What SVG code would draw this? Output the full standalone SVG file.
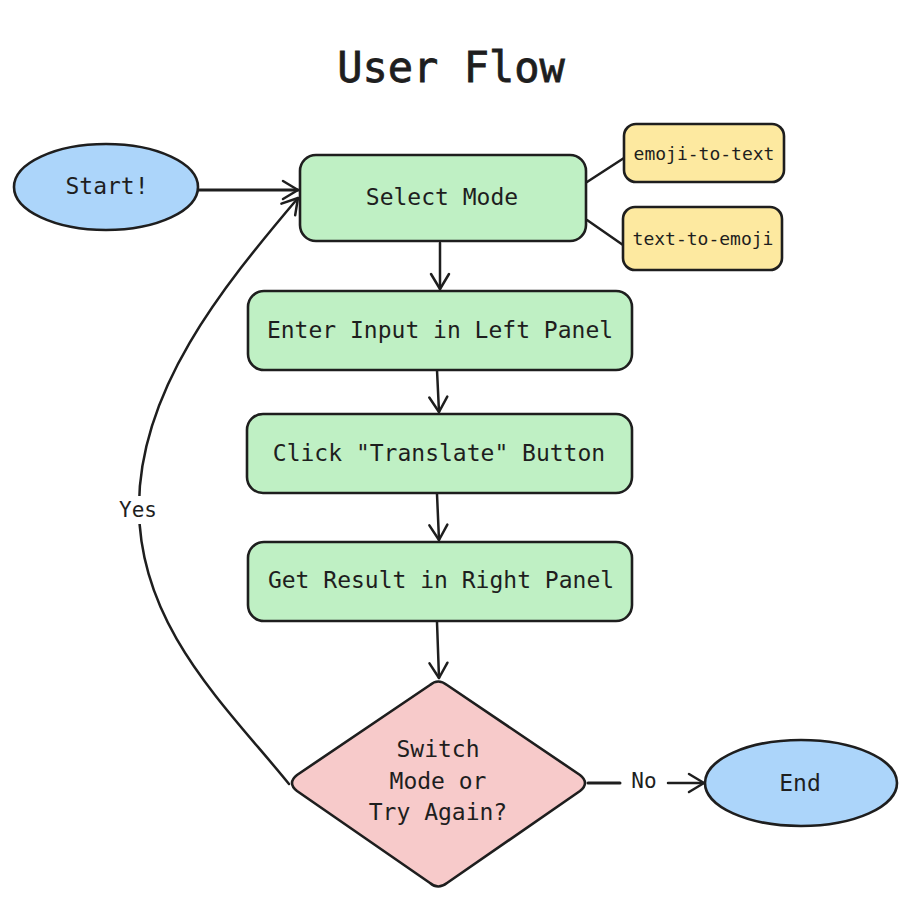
<svg xmlns="http://www.w3.org/2000/svg" width="922" height="918" viewBox="0 0 922 918">
<style>
text{font-family:"DejaVu Sans Mono","Liberation Mono",monospace;fill:#1e1e1e;text-anchor:middle;dominant-baseline:central}
.n{stroke:#1e1e1e;stroke-width:2.6;stroke-linejoin:round}
.blue{fill:#acd5fa}.green{fill:#bff0c4}.yellow{fill:#fde9a0}.pink{fill:#f7caca}
.t{font-size:23px}.s{font-size:18px}
.c{fill:none;stroke:#1e1e1e;stroke-width:2.5;stroke-linecap:round}
</style>
<defs>
<marker id="ah" markerUnits="userSpaceOnUse" markerWidth="40" markerHeight="40" refX="20" refY="20" orient="auto" viewBox="0 0 40 40">
<path d="M5,11 L20,20 L5,29" fill="none" stroke="#1e1e1e" stroke-width="2.5" stroke-linecap="round" stroke-linejoin="round"/>
</marker>
</defs>
<rect width="922" height="918" fill="#ffffff"/>
<text x="451" y="67" style="font-size:42px;stroke:#1e1e1e;stroke-width:0.8">User Flow</text>

<g id="connectors">
<path class="c" d="M198,190 L298,190" style="stroke-width:3.2" marker-end="url(#ah)"/>
<path class="c" d="M440,243 L440,289" marker-end="url(#ah)"/>
<path class="c" d="M437,370 L439,412" marker-end="url(#ah)"/>
<path class="c" d="M437,494 L439,540" marker-end="url(#ah)"/>
<path class="c" d="M437,622 L439,678" marker-end="url(#ah)"/>
<path class="c" d="M587,182 L624,158"/>
<path class="c" d="M587,220 L623,245"/>
<path class="c" d="M588,783 L620,783" style="stroke-width:3"/>
<path class="c" d="M668,783 L704,783" marker-end="url(#ah)"/>
<path class="c" d="M289,784 C225,705 138,625 139,505 C140,390 220,290 298,198" marker-end="url(#ah)"/>
<rect x="112" y="496" width="52" height="28" fill="#ffffff"/>
<text x="138" y="510" style="font-size:21px">Yes</text>
<text x="644" y="781" style="font-size:21px">No</text>
</g>

<g id="start">
<ellipse class="n blue" cx="106" cy="187" rx="92" ry="43"/>
<text class="t" x="107" y="186">Start!</text>
</g>
<g id="select-mode">
<rect class="n green" x="300" y="155" width="286" height="86" rx="16"/>
<text class="t" x="442" y="197">Select Mode</text>
</g>
<g id="emoji-to-text">
<rect class="n yellow" x="624" y="124" width="160" height="58" rx="12"/>
<text class="s" x="704" y="153">emoji-to-text</text>
</g>
<g id="text-to-emoji">
<rect class="n yellow" x="623" y="207" width="159" height="63" rx="12"/>
<text class="s" x="703" y="238">text-to-emoji</text>
</g>
<g id="enter-input">
<rect class="n green" x="248" y="291" width="384" height="79" rx="16"/>
<text class="t" x="440" y="330">Enter Input in Left Panel</text>
</g>
<g id="click-translate">
<rect class="n green" x="247" y="414" width="385" height="79" rx="16"/>
<text class="t" x="439" y="453">Click "Translate" Button</text>
</g>
<g id="get-result">
<rect class="n green" x="248" y="542" width="384" height="79" rx="16"/>
<text class="t" x="441" y="580">Get Result in Right Panel</text>
</g>
<g id="decision">
<path class="n pink" d="M430,685 Q438,678 447,685 L580,775 Q590,783 580,791 L447,883 Q438,890 430,883 L297,791 Q287,783 297,775 Z"/>
<text class="t" x="438" y="749">Switch</text>
<text class="t" x="438" y="781">Mode or</text>
<text class="t" x="438" y="812">Try Again?</text>
</g>
<g id="end">
<ellipse class="n blue" cx="801" cy="783" rx="96" ry="43"/>
<text class="t" x="800" y="783">End</text>
</g>
</svg>
